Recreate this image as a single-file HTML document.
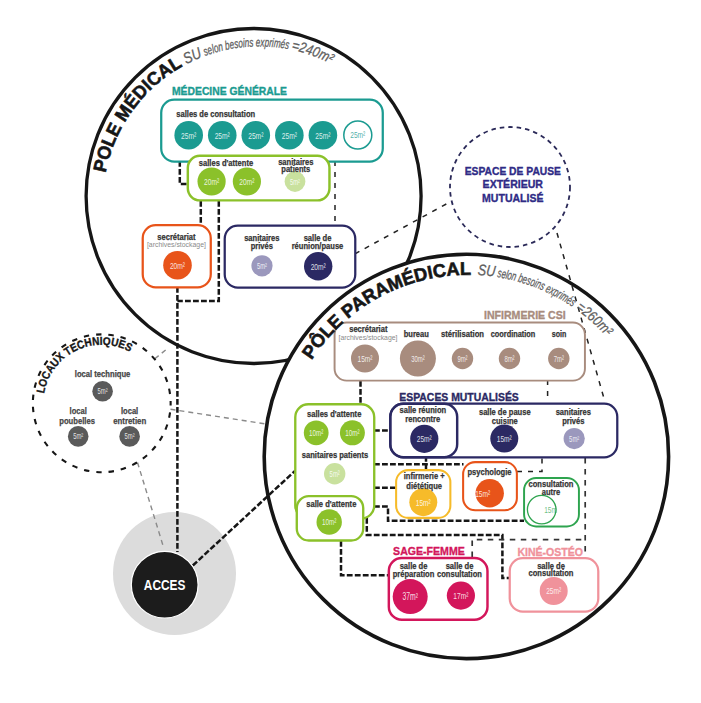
<!DOCTYPE html>
<html><head><meta charset="utf-8"><style>
html,body{margin:0;padding:0;background:#fff;width:701px;height:703px;overflow:hidden}
svg{display:block}
text{font-family:"Liberation Sans",sans-serif}
</style></head><body>
<svg width="701" height="703" viewBox="0 0 701 703">
<rect width="701" height="703" fill="#fff"/>
<circle cx="253.6" cy="196" r="167.5" fill="none" stroke="#161616" stroke-width="3.3"/>
<circle cx="466.4" cy="456.4" r="202.2" fill="#fff" stroke="#161616" stroke-width="3.6"/>
<circle cx="174.5" cy="573.5" r="61.5" fill="#dcdcdc" stroke="none" stroke-width="0"/>
<path d="M154.8 358.8 L167.4 348.5" fill="none" stroke="#8a8a8a" stroke-width="1.4" stroke-dasharray="5 4"/>
<path d="M170.5 409.2 L264.5 423.8" fill="none" stroke="#8a8a8a" stroke-width="1.4" stroke-dasharray="5 4"/>
<path d="M137.5 462.5 L163.0 545.5" fill="none" stroke="#8a8a8a" stroke-width="1.4" stroke-dasharray="5 4"/>
<path d="M179.8 161.0 L179.8 184.0 L188.0 184.0" fill="none" stroke="#161616" stroke-width="2.5" stroke-dasharray="5.8 2.2"/>
<path d="M200.8 201.0 L200.8 225.0" fill="none" stroke="#161616" stroke-width="2.5" stroke-dasharray="5.8 2.2"/>
<path d="M218.8 201.0 L218.8 301.0 L177.4 301.0" fill="none" stroke="#161616" stroke-width="2.5" stroke-dasharray="5.8 2.2"/>
<path d="M177.4 287.0 L177.4 552.0" fill="none" stroke="#161616" stroke-width="2.5" stroke-dasharray="5.8 2.2"/>
<path d="M335.0 161.0 L335.0 226.0" fill="none" stroke="#222" stroke-width="1.5" stroke-dasharray="5 6"/>
<path d="M355.0 253.8 L450.0 202.0" fill="none" stroke="#222" stroke-width="1.5" stroke-dasharray="5 6"/>
<path d="M557.0 233.0 L605.0 402.0" fill="none" stroke="#222" stroke-width="1.5" stroke-dasharray="5 6"/>
<path d="M192.8 565.5 L295.0 470.9" fill="none" stroke="#161616" stroke-width="2.5" stroke-dasharray="5.8 2.2"/>
<path d="M360.5 381.0 L360.5 404.5" fill="none" stroke="#161616" stroke-width="2.5" stroke-dasharray="5.8 2.2"/>
<path d="M374.0 430.5 L390.0 430.5" fill="none" stroke="#161616" stroke-width="2.5" stroke-dasharray="5.8 2.2"/>
<path d="M374.0 464.3 L463.5 464.3" fill="none" stroke="#161616" stroke-width="2.5" stroke-dasharray="5.8 2.2"/>
<path d="M426.0 456.0 L426.0 470.5" fill="none" stroke="#161616" stroke-width="2.5" stroke-dasharray="5.8 2.2"/>
<path d="M374.0 487.8 L396.5 487.8" fill="none" stroke="#161616" stroke-width="2.5" stroke-dasharray="5.8 2.2"/>
<path d="M374.0 506.5 L388.0 506.5 L388.0 520.8 L524.0 520.8" fill="none" stroke="#161616" stroke-width="2.5" stroke-dasharray="5.8 2.2"/>
<path d="M366.8 518.0 L366.8 535.0 L502.4 535.0 L502.4 578.1 L509.5 578.1" fill="none" stroke="#161616" stroke-width="2.5" stroke-dasharray="5.8 2.2"/>
<path d="M341.0 541.0 L341.0 575.2 L388.5 575.2" fill="none" stroke="#161616" stroke-width="2.5" stroke-dasharray="5.8 2.2"/>
<path d="M517.0 471.4 L542.0 471.4 L542.0 456.0" fill="none" stroke="#222" stroke-width="1.5" stroke-dasharray="5 6"/>
<path d="M547.6 380.0 L547.6 398.0" fill="none" stroke="#222" stroke-width="1.5" stroke-dasharray="5 6"/>
<path d="M472.2 557.0 L472.2 539.6 L585.2 539.6" fill="none" stroke="#333" stroke-width="1.7" stroke-dasharray="5.5 5.5"/>
<path d="M585.2 458.0 L585.2 558.0" fill="none" stroke="#333" stroke-width="1.7" stroke-dasharray="5.5 5.5"/>
<circle cx="164.7" cy="584.8" r="33.4" fill="#1c1c1c" stroke="#fff" stroke-width="1.2"/>
<text x="164.60" y="590.00" font-size="14.3" fill="#fff" text-anchor="middle" font-weight="bold" textLength="41.50" lengthAdjust="spacingAndGlyphs">ACCES</text>
<circle cx="101.75" cy="403.3" r="68.9" fill="none" stroke="#161616" stroke-width="2.1" stroke-dasharray="5.4 6.97" stroke-dashoffset="3.17"/>
<path id="p1" d="M43.43 398.71 A58.5 58.5 0 0 1 134.04 354.52" fill="none"/>
<text font-size="11.3" fill="#161616" font-weight="bold" stroke="#161616" stroke-width="0.35"><textPath href="#p1" startOffset="5.11" textLength="111.29" lengthAdjust="spacingAndGlyphs">LOCAUX TECHNIQUES</textPath></text>
<text x="102.60" y="376.50" font-size="8.8" fill="#454545" text-anchor="middle" font-weight="bold" textLength="55.50" lengthAdjust="spacingAndGlyphs" stroke="#454545" stroke-width="0.25">local technique</text>
<circle cx="102.6" cy="391.2" r="10.3" fill="#5a5a5a" stroke="none" stroke-width="0"/>
<text x="102.60" y="394.29" font-size="8.59" fill="#fff" fill-opacity="0.85" text-anchor="middle" textLength="10.06" lengthAdjust="spacingAndGlyphs">5m²</text>
<text x="78.20" y="414.10" font-size="8.8" fill="#454545" text-anchor="middle" font-weight="bold" textLength="17.23" lengthAdjust="spacingAndGlyphs" stroke="#454545" stroke-width="0.25">local</text>
<text x="77.10" y="423.90" font-size="8.8" fill="#454545" text-anchor="middle" font-weight="bold" textLength="35.60" lengthAdjust="spacingAndGlyphs" stroke="#454545" stroke-width="0.25">poubelles</text>
<circle cx="78.2" cy="436.4" r="10.3" fill="#5a5a5a" stroke="none" stroke-width="0"/>
<text x="78.20" y="439.49" font-size="8.59" fill="#fff" fill-opacity="0.85" text-anchor="middle" textLength="10.06" lengthAdjust="spacingAndGlyphs">5m²</text>
<text x="129.60" y="414.10" font-size="8.8" fill="#454545" text-anchor="middle" font-weight="bold" textLength="17.23" lengthAdjust="spacingAndGlyphs" stroke="#454545" stroke-width="0.25">local</text>
<text x="129.70" y="423.90" font-size="8.8" fill="#454545" text-anchor="middle" font-weight="bold" textLength="33.10" lengthAdjust="spacingAndGlyphs" stroke="#454545" stroke-width="0.25">entretien</text>
<circle cx="129.6" cy="436.4" r="10.3" fill="#5a5a5a" stroke="none" stroke-width="0"/>
<text x="129.60" y="439.49" font-size="8.59" fill="#fff" fill-opacity="0.85" text-anchor="middle" textLength="10.06" lengthAdjust="spacingAndGlyphs">5m²</text>
<circle cx="510" cy="187" r="60" fill="none" stroke="#2a2958" stroke-width="1.8" stroke-dasharray="4.5 4"/>
<text x="512.85" y="174.70" font-size="11.5" fill="#2f2b86" text-anchor="middle" font-weight="bold" textLength="96.30" lengthAdjust="spacingAndGlyphs" stroke="#2f2b86" stroke-width="0.35">ESPACE DE PAUSE</text>
<text x="512.80" y="188.30" font-size="11.5" fill="#2f2b86" text-anchor="middle" font-weight="bold" textLength="60.40" lengthAdjust="spacingAndGlyphs" stroke="#2f2b86" stroke-width="0.35">EXTÉRIEUR</text>
<text x="512.80" y="201.70" font-size="11.5" fill="#2f2b86" text-anchor="middle" font-weight="bold" textLength="61.40" lengthAdjust="spacingAndGlyphs" stroke="#2f2b86" stroke-width="0.35">MUTUALISÉ</text>
<text x="172.00" y="95.00" font-size="10.6" fill="#1b9b91" text-anchor="start" font-weight="bold" textLength="115.00" lengthAdjust="spacingAndGlyphs" stroke="#1b9b91" stroke-width="0.35">MÉDECINE GÉNÉRALE</text>
<rect x="161.22" y="99.72" width="221.55" height="61.85" rx="13" fill="#fff" stroke="#1b9b91" stroke-width="2.25"/>
<text x="176.30" y="117.30" font-size="8.8" fill="#333" text-anchor="start" font-weight="bold" textLength="78.80" lengthAdjust="spacingAndGlyphs" stroke="#333" stroke-width="0.25">salles de consultation</text>
<circle cx="188.7" cy="135.2" r="14.3" fill="#1b9b91" stroke="none" stroke-width="0"/>
<text x="188.70" y="138.72" font-size="9.79" fill="#fff" fill-opacity="0.85" text-anchor="middle" textLength="15.17" lengthAdjust="spacingAndGlyphs">25m²</text>
<circle cx="222.25" cy="135.2" r="14.3" fill="#1b9b91" stroke="none" stroke-width="0"/>
<text x="222.25" y="138.72" font-size="9.79" fill="#fff" fill-opacity="0.85" text-anchor="middle" textLength="15.17" lengthAdjust="spacingAndGlyphs">25m²</text>
<circle cx="255.79999999999998" cy="135.2" r="14.3" fill="#1b9b91" stroke="none" stroke-width="0"/>
<text x="255.80" y="138.72" font-size="9.79" fill="#fff" fill-opacity="0.85" text-anchor="middle" textLength="15.17" lengthAdjust="spacingAndGlyphs">25m²</text>
<circle cx="289.34999999999997" cy="135.2" r="14.3" fill="#1b9b91" stroke="none" stroke-width="0"/>
<text x="289.35" y="138.72" font-size="9.79" fill="#fff" fill-opacity="0.85" text-anchor="middle" textLength="15.17" lengthAdjust="spacingAndGlyphs">25m²</text>
<circle cx="322.9" cy="135.2" r="14.3" fill="#1b9b91" stroke="none" stroke-width="0"/>
<text x="322.90" y="138.72" font-size="9.79" fill="#fff" fill-opacity="0.85" text-anchor="middle" textLength="15.17" lengthAdjust="spacingAndGlyphs">25m²</text>
<circle cx="357.8" cy="135" r="14" fill="#fff" stroke="#1b9b91" stroke-width="1.5"/>
<text x="357.80" y="138.49" font-size="9.70" fill="#1b9b91" fill-opacity="0.8" text-anchor="middle" textLength="15.03" lengthAdjust="spacingAndGlyphs">25m²</text>
<rect x="187.82" y="155.82" width="141.65" height="44.55" rx="12" fill="#fff" stroke="#8bc12a" stroke-width="2.4499999999999997"/>
<text x="226.00" y="165.50" font-size="8.8" fill="#333" text-anchor="middle" font-weight="bold" textLength="54.31" lengthAdjust="spacingAndGlyphs" stroke="#333" stroke-width="0.25">salles d'attente</text>
<circle cx="211.6" cy="181.5" r="14.1" fill="#8bc12a" stroke="none" stroke-width="0"/>
<text x="211.60" y="185.00" font-size="9.73" fill="#fff" fill-opacity="0.85" text-anchor="middle" textLength="15.07" lengthAdjust="spacingAndGlyphs">20m²</text>
<circle cx="246.9" cy="181.5" r="14.1" fill="#8bc12a" stroke="none" stroke-width="0"/>
<text x="246.90" y="185.00" font-size="9.73" fill="#fff" fill-opacity="0.85" text-anchor="middle" textLength="15.07" lengthAdjust="spacingAndGlyphs">20m²</text>
<circle cx="295" cy="181.5" r="10.4" fill="#c9e19e" stroke="none" stroke-width="0"/>
<text x="295.00" y="184.60" font-size="8.62" fill="#fff" fill-opacity="0.85" text-anchor="middle" textLength="10.09" lengthAdjust="spacingAndGlyphs">5m²</text>
<text x="295.80" y="164.70" font-size="8.8" fill="#333" text-anchor="middle" font-weight="bold" textLength="35.30" lengthAdjust="spacingAndGlyphs" stroke="#333" stroke-width="0.25">sanitaires</text>
<text x="295.80" y="171.50" font-size="8.8" fill="#333" text-anchor="middle" font-weight="bold" textLength="28.98" lengthAdjust="spacingAndGlyphs" stroke="#333" stroke-width="0.25">patients</text>
<rect x="142.72" y="225.22" width="68.05" height="62.05" rx="13" fill="#fff" stroke="#e8541a" stroke-width="2.25"/>
<text x="176.40" y="239.80" font-size="8.8" fill="#333" text-anchor="middle" font-weight="bold" textLength="38.24" lengthAdjust="spacingAndGlyphs" stroke="#333" stroke-width="0.25">secrétariat</text>
<text x="176.40" y="247.00" font-size="7.5" fill="#8a8a8a" text-anchor="middle" font-weight="normal" textLength="59.00" lengthAdjust="spacingAndGlyphs">[archives/stockage]</text>
<circle cx="177.5" cy="265.2" r="14.3" fill="#e8541a" stroke="none" stroke-width="0"/>
<text x="177.50" y="268.72" font-size="9.79" fill="#fff" fill-opacity="0.85" text-anchor="middle" textLength="15.17" lengthAdjust="spacingAndGlyphs">20m²</text>
<rect x="224.72" y="225.72" width="130.55" height="61.85" rx="13" fill="#fff" stroke="#2b2963" stroke-width="2.25"/>
<text x="261.80" y="240.50" font-size="8.8" fill="#333" text-anchor="middle" font-weight="bold" textLength="35.30" lengthAdjust="spacingAndGlyphs" stroke="#333" stroke-width="0.25">sanitaires</text>
<text x="261.80" y="249.30" font-size="8.8" fill="#333" text-anchor="middle" font-weight="bold" textLength="22.27" lengthAdjust="spacingAndGlyphs" stroke="#333" stroke-width="0.25">privés</text>
<text x="317.50" y="240.50" font-size="8.8" fill="#333" text-anchor="middle" font-weight="bold" textLength="27.73" lengthAdjust="spacingAndGlyphs" stroke="#333" stroke-width="0.25">salle de</text>
<text x="317.50" y="249.30" font-size="8.8" fill="#333" text-anchor="middle" font-weight="bold" textLength="51.66" lengthAdjust="spacingAndGlyphs" stroke="#333" stroke-width="0.25">réunion/pause</text>
<circle cx="262" cy="265.8" r="10.6" fill="#9b98bd" stroke="none" stroke-width="0"/>
<text x="262.00" y="268.92" font-size="8.68" fill="#fff" fill-opacity="0.85" text-anchor="middle" textLength="10.16" lengthAdjust="spacingAndGlyphs">5m²</text>
<circle cx="318.2" cy="266.2" r="14.2" fill="#2b2963" stroke="none" stroke-width="0"/>
<text x="318.20" y="269.71" font-size="9.76" fill="#fff" fill-opacity="0.85" text-anchor="middle" textLength="15.12" lengthAdjust="spacingAndGlyphs">20m²</text>
<text x="484.00" y="319.30" font-size="11.5" fill="#a88c7e" text-anchor="start" font-weight="bold" textLength="81.70" lengthAdjust="spacingAndGlyphs" stroke="#a88c7e" stroke-width="0.35">INFIRMERIE CSI</text>
<rect x="334.58" y="322.58" width="250.35" height="58.05" rx="12" fill="#fff" stroke="#a88c7e" stroke-width="1.9499999999999997"/>
<text x="368.30" y="332.10" font-size="8.8" fill="#333" text-anchor="middle" font-weight="bold" textLength="38.24" lengthAdjust="spacingAndGlyphs" stroke="#333" stroke-width="0.25">secrétariat</text>
<text x="368.00" y="340.00" font-size="7.5" fill="#8a8a8a" text-anchor="middle" font-weight="normal" textLength="59.00" lengthAdjust="spacingAndGlyphs">[archives/stockage]</text>
<text x="416.30" y="337.10" font-size="8.8" fill="#333" text-anchor="middle" font-weight="bold" textLength="25.20" lengthAdjust="spacingAndGlyphs" stroke="#333" stroke-width="0.25">bureau</text>
<text x="462.50" y="337.20" font-size="8.8" fill="#333" text-anchor="middle" font-weight="bold" textLength="43.00" lengthAdjust="spacingAndGlyphs" stroke="#333" stroke-width="0.25">stérilisation</text>
<text x="513.00" y="337.20" font-size="8.8" fill="#333" text-anchor="middle" font-weight="bold" textLength="44.50" lengthAdjust="spacingAndGlyphs" stroke="#333" stroke-width="0.25">coordination</text>
<text x="559.00" y="337.20" font-size="8.8" fill="#333" text-anchor="middle" font-weight="bold" textLength="14.60" lengthAdjust="spacingAndGlyphs" stroke="#333" stroke-width="0.25">soin</text>
<circle cx="365" cy="358.5" r="14" fill="#a88c7e" stroke="none" stroke-width="0"/>
<text x="365.00" y="361.99" font-size="9.70" fill="#fff" fill-opacity="0.85" text-anchor="middle" textLength="15.03" lengthAdjust="spacingAndGlyphs">15m²</text>
<circle cx="417.9" cy="358.5" r="18" fill="#a88c7e" stroke="none" stroke-width="0"/>
<text x="417.90" y="361.63" font-size="8.70" fill="#fff" fill-opacity="0.85" text-anchor="middle" textLength="13.48" lengthAdjust="spacingAndGlyphs">30m²</text>
<circle cx="462.5" cy="358.5" r="10.7" fill="#a88c7e" stroke="none" stroke-width="0"/>
<text x="462.50" y="361.64" font-size="8.71" fill="#fff" fill-opacity="0.85" text-anchor="middle" textLength="10.20" lengthAdjust="spacingAndGlyphs">9m²</text>
<circle cx="509.5" cy="358.5" r="10.7" fill="#a88c7e" stroke="none" stroke-width="0"/>
<text x="509.50" y="361.64" font-size="8.71" fill="#fff" fill-opacity="0.85" text-anchor="middle" textLength="10.20" lengthAdjust="spacingAndGlyphs">8m²</text>
<circle cx="558.8" cy="358.5" r="10.7" fill="#a88c7e" stroke="none" stroke-width="0"/>
<text x="558.80" y="361.64" font-size="8.71" fill="#fff" fill-opacity="0.85" text-anchor="middle" textLength="10.20" lengthAdjust="spacingAndGlyphs">7m²</text>
<text x="399.30" y="400.90" font-size="11.2" fill="#2b2963" text-anchor="start" font-weight="bold" textLength="119.50" lengthAdjust="spacingAndGlyphs" stroke="#2b2963" stroke-width="0.35">ESPACES MUTUALISÉS</text>
<rect x="390.23" y="403.73" width="227.05" height="53.55" rx="13" fill="#fff" stroke="#2b2963" stroke-width="2.25"/>
<rect x="390.33" y="403.83" width="66.85" height="53.35" rx="13" fill="none" stroke="#2b2963" stroke-width="2.4499999999999997"/>
<text x="422.80" y="412.90" font-size="8.8" fill="#333" text-anchor="middle" font-weight="bold" textLength="46.63" lengthAdjust="spacingAndGlyphs" stroke="#333" stroke-width="0.25">salle réunion</text>
<text x="422.80" y="422.30" font-size="8.8" fill="#333" text-anchor="middle" font-weight="bold" textLength="34.87" lengthAdjust="spacingAndGlyphs" stroke="#333" stroke-width="0.25">rencontre</text>
<circle cx="424.3" cy="438.8" r="14.1" fill="#2b2963" stroke="none" stroke-width="0"/>
<text x="424.30" y="442.30" font-size="9.73" fill="#fff" fill-opacity="0.85" text-anchor="middle" textLength="15.07" lengthAdjust="spacingAndGlyphs">25m²</text>
<text x="504.80" y="415.10" font-size="8.8" fill="#333" text-anchor="middle" font-weight="bold" textLength="51.68" lengthAdjust="spacingAndGlyphs" stroke="#333" stroke-width="0.25">salle de pause</text>
<text x="504.80" y="424.40" font-size="8.8" fill="#333" text-anchor="middle" font-weight="bold" textLength="26.05" lengthAdjust="spacingAndGlyphs" stroke="#333" stroke-width="0.25">cuisine</text>
<circle cx="504.3" cy="438.6" r="14" fill="#2b2963" stroke="none" stroke-width="0"/>
<text x="504.30" y="442.09" font-size="9.70" fill="#fff" fill-opacity="0.85" text-anchor="middle" textLength="15.03" lengthAdjust="spacingAndGlyphs">15m²</text>
<text x="573.30" y="415.10" font-size="8.8" fill="#333" text-anchor="middle" font-weight="bold" textLength="35.30" lengthAdjust="spacingAndGlyphs" stroke="#333" stroke-width="0.25">sanitaires</text>
<text x="573.30" y="424.40" font-size="8.8" fill="#333" text-anchor="middle" font-weight="bold" textLength="22.27" lengthAdjust="spacingAndGlyphs" stroke="#333" stroke-width="0.25">privés</text>
<circle cx="574.2" cy="438.6" r="10.6" fill="#9b98bd" stroke="none" stroke-width="0"/>
<text x="574.20" y="441.72" font-size="8.68" fill="#fff" fill-opacity="0.85" text-anchor="middle" textLength="10.16" lengthAdjust="spacingAndGlyphs">5m²</text>
<rect x="295.28" y="404.28" width="78.95" height="114.25" rx="13" fill="#fff" stroke="#8bc12a" stroke-width="2.35"/>
<text x="334.20" y="416.70" font-size="8.8" fill="#333" text-anchor="middle" font-weight="bold" textLength="54.31" lengthAdjust="spacingAndGlyphs" stroke="#333" stroke-width="0.25">salles d'attente</text>
<circle cx="316.2" cy="432.8" r="12.4" fill="#8bc12a" stroke="none" stroke-width="0"/>
<text x="316.20" y="436.12" font-size="9.22" fill="#fff" fill-opacity="0.85" text-anchor="middle" textLength="14.28" lengthAdjust="spacingAndGlyphs">10m²</text>
<circle cx="352.4" cy="432.8" r="12.5" fill="#8bc12a" stroke="none" stroke-width="0"/>
<text x="352.40" y="436.13" font-size="9.25" fill="#fff" fill-opacity="0.85" text-anchor="middle" textLength="14.33" lengthAdjust="spacingAndGlyphs">10m²</text>
<text x="335.00" y="457.70" font-size="8.8" fill="#333" text-anchor="middle" font-weight="bold" textLength="66.38" lengthAdjust="spacingAndGlyphs" stroke="#333" stroke-width="0.25">sanitaires patients</text>
<circle cx="334.7" cy="473.8" r="10.7" fill="#c9e19e" stroke="none" stroke-width="0"/>
<text x="334.70" y="476.94" font-size="8.71" fill="#fff" fill-opacity="0.85" text-anchor="middle" textLength="10.20" lengthAdjust="spacingAndGlyphs">5m²</text>
<rect x="296.78" y="496.08" width="66.45" height="44.45" rx="12" fill="#fff" stroke="#8bc12a" stroke-width="2.35"/>
<text x="331.30" y="506.70" font-size="8.8" fill="#333" text-anchor="middle" font-weight="bold" textLength="50.11" lengthAdjust="spacingAndGlyphs" stroke="#333" stroke-width="0.25">salle d'attente</text>
<circle cx="329.2" cy="522" r="12.7" fill="#8bc12a" stroke="none" stroke-width="0"/>
<text x="329.20" y="525.35" font-size="9.31" fill="#fff" fill-opacity="0.85" text-anchor="middle" textLength="14.42" lengthAdjust="spacingAndGlyphs">10m²</text>
<rect x="396.12" y="470.12" width="54.25" height="47.75" rx="12" fill="#fff" stroke="#f6bb2a" stroke-width="2.05"/>
<circle cx="423.3" cy="502.2" r="14" fill="#f6bb2a" stroke="none" stroke-width="0"/>
<text x="423.30" y="505.69" font-size="9.70" fill="#fff" fill-opacity="0.85" text-anchor="middle" textLength="15.03" lengthAdjust="spacingAndGlyphs">15m²</text>
<text x="424.20" y="479.30" font-size="8.8" fill="#333" text-anchor="middle" font-weight="bold" textLength="40.97" lengthAdjust="spacingAndGlyphs" stroke="#333" stroke-width="0.25">infirmerie +</text>
<text x="424.20" y="488.50" font-size="8.8" fill="#333" text-anchor="middle" font-weight="bold" textLength="35.70" lengthAdjust="spacingAndGlyphs" stroke="#333" stroke-width="0.25">diététique</text>
<rect x="463.12" y="462.12" width="53.75" height="48.05" rx="12" fill="#fff" stroke="#e8541a" stroke-width="2.05"/>
<circle cx="489.7" cy="493.2" r="14.2" fill="#e8541a" stroke="none" stroke-width="0"/>
<text x="482.70" y="496.71" font-size="9.76" fill="#fff" fill-opacity="0.85" text-anchor="middle" textLength="15.12" lengthAdjust="spacingAndGlyphs">15m²</text>
<text x="489.50" y="474.70" font-size="8.8" fill="#333" text-anchor="middle" font-weight="bold" textLength="44.10" lengthAdjust="spacingAndGlyphs" stroke="#333" stroke-width="0.25">psychologie</text>
<rect x="524.08" y="478.08" width="54.85" height="48.35" rx="12" fill="#fff" stroke="#2ea44f" stroke-width="1.9499999999999997"/>
<text x="551.00" y="486.50" font-size="8.8" fill="#333" text-anchor="middle" font-weight="bold" textLength="44.93" lengthAdjust="spacingAndGlyphs" stroke="#333" stroke-width="0.25">consultation</text>
<text x="551.00" y="494.50" font-size="8.8" fill="#333" text-anchor="middle" font-weight="bold" textLength="18.49" lengthAdjust="spacingAndGlyphs" stroke="#333" stroke-width="0.25">autre</text>
<circle cx="541.7" cy="509.6" r="14.3" fill="none" stroke="#2ea44f" stroke-width="1.3"/>
<text x="550.60" y="512.99" font-size="9.70" fill="#2ea44f" fill-opacity="0.7" text-anchor="middle" textLength="12.83" lengthAdjust="spacingAndGlyphs">15m</text>
<text x="393.10" y="554.90" font-size="11.5" fill="#d3165b" text-anchor="start" font-weight="bold" textLength="71.70" lengthAdjust="spacingAndGlyphs" stroke="#d3165b" stroke-width="0.35">SAGE-FEMME</text>
<rect x="388.83" y="558.03" width="98.65" height="61.75" rx="13" fill="#fff" stroke="#d3165b" stroke-width="2.4499999999999997"/>
<text x="413.50" y="569.30" font-size="8.8" fill="#333" text-anchor="middle" font-weight="bold" textLength="27.73" lengthAdjust="spacingAndGlyphs" stroke="#333" stroke-width="0.25">salle de</text>
<text x="413.50" y="576.50" font-size="8.8" fill="#333" text-anchor="middle" font-weight="bold" textLength="41.58" lengthAdjust="spacingAndGlyphs" stroke="#333" stroke-width="0.25">préparation</text>
<text x="459.50" y="569.30" font-size="8.8" fill="#333" text-anchor="middle" font-weight="bold" textLength="27.73" lengthAdjust="spacingAndGlyphs" stroke="#333" stroke-width="0.25">salle de</text>
<text x="459.50" y="576.50" font-size="8.8" fill="#333" text-anchor="middle" font-weight="bold" textLength="44.93" lengthAdjust="spacingAndGlyphs" stroke="#333" stroke-width="0.25">consultation</text>
<circle cx="410.2" cy="596.6" r="17.5" fill="#d3165b" stroke="none" stroke-width="0"/>
<text x="410.20" y="600.20" font-size="10.00" fill="#fff" fill-opacity="0.85" text-anchor="middle" textLength="15.49" lengthAdjust="spacingAndGlyphs">37m²</text>
<circle cx="460.9" cy="595.6" r="14.1" fill="#d3165b" stroke="none" stroke-width="0"/>
<text x="460.90" y="599.10" font-size="9.73" fill="#fff" fill-opacity="0.85" text-anchor="middle" textLength="15.07" lengthAdjust="spacingAndGlyphs">17m²</text>
<text x="517.40" y="555.60" font-size="11.5" fill="#f0929b" text-anchor="start" font-weight="bold" textLength="65.60" lengthAdjust="spacingAndGlyphs" stroke="#f0929b" stroke-width="0.35">KINÉ-OSTÉO</text>
<rect x="509.73" y="558.23" width="88.55" height="53.35" rx="13" fill="#fff" stroke="#f0929b" stroke-width="2.25"/>
<text x="551.00" y="569.20" font-size="8.8" fill="#333" text-anchor="middle" font-weight="bold" textLength="27.73" lengthAdjust="spacingAndGlyphs" stroke="#333" stroke-width="0.25">salle de</text>
<text x="551.00" y="576.30" font-size="8.8" fill="#333" text-anchor="middle" font-weight="bold" textLength="44.93" lengthAdjust="spacingAndGlyphs" stroke="#333" stroke-width="0.25">consultation</text>
<circle cx="553.7" cy="591" r="14" fill="#f0929b" stroke="none" stroke-width="0"/>
<text x="553.70" y="594.49" font-size="9.70" fill="#fff" fill-opacity="0.85" text-anchor="middle" textLength="15.03" lengthAdjust="spacingAndGlyphs">25m²</text>
<path id="p2" d="M103.63 186.54 A156.2 156.2 0 0 1 194.97 60.13" fill="none"/>
<text font-size="18.5" fill="#161616" font-weight="bold" stroke="#161616" stroke-width="0.6"><textPath href="#p2" startOffset="13.63" textLength="136.04" lengthAdjust="spacingAndGlyphs">POLE MÉDICAL</textPath></text>
<path id="p3" d="M303.58 374.18 A185.7 185.7 0 0 1 487.09 275.78" fill="none"/>
<text font-size="18.5" fill="#161616" font-weight="bold" stroke="#161616" stroke-width="0.6"><textPath href="#p3" startOffset="16.21" textLength="188.63" lengthAdjust="spacingAndGlyphs">PÔLE PARAMÉDICAL</textPath></text>
<path id="p4" d="M174.61 71.16 A156.2 156.2 0 0 1 215.42 52.60" fill="none"/>
<text font-size="15.5" fill="#5e5e5e" font-weight="normal" font-style="italic" stroke="#5e5e5e" stroke-width="0.3"><textPath href="#p4" startOffset="13.63" textLength="17.72" lengthAdjust="spacingAndGlyphs">SU</textPath></text>
<path id="p5" d="M192.49 61.27 A156.2 156.2 0 0 1 301.79 52.38" fill="none"/>
<text font-size="12.5" fill="#5e5e5e" font-weight="normal" font-style="italic" stroke="#5e5e5e" stroke-width="0.3"><textPath href="#p5" startOffset="13.63" textLength="84.78" lengthAdjust="spacingAndGlyphs">selon besoins exprimés</textPath></text>
<path id="p6" d="M277.77 47.53 A156.2 156.2 0 0 1 342.47 70.57" fill="none"/>
<text font-size="14.5" fill="#5e5e5e" font-weight="normal" font-style="italic" stroke="#5e5e5e" stroke-width="0.3"><textPath href="#p6" startOffset="13.63" textLength="41.98" lengthAdjust="spacingAndGlyphs">=240m²</textPath></text>
<path id="p7" d="M461.20 274.92 A185.7 185.7 0 0 1 510.72 279.78" fill="none"/>
<text font-size="15.5" fill="#5e5e5e" font-weight="normal" font-style="italic" stroke="#5e5e5e" stroke-width="0.3"><textPath href="#p7" startOffset="16.21" textLength="17.50" lengthAdjust="spacingAndGlyphs">SU</textPath></text>
<path id="p8" d="M480.95 275.25 A185.7 185.7 0 0 1 585.37 316.59" fill="none"/>
<text font-size="12.5" fill="#5e5e5e" font-weight="normal" font-style="italic" stroke="#5e5e5e" stroke-width="0.3"><textPath href="#p8" startOffset="16.21" textLength="81.68" lengthAdjust="spacingAndGlyphs">selon besoins exprimés</textPath></text>
<path id="p9" d="M561.97 300.33 A185.7 185.7 0 0 1 616.70 349.26" fill="none"/>
<text font-size="14.5" fill="#5e5e5e" font-weight="normal" font-style="italic" stroke="#5e5e5e" stroke-width="0.3"><textPath href="#p9" startOffset="16.21" textLength="41.49" lengthAdjust="spacingAndGlyphs">=260m²</textPath></text>
</svg>
</body></html>
